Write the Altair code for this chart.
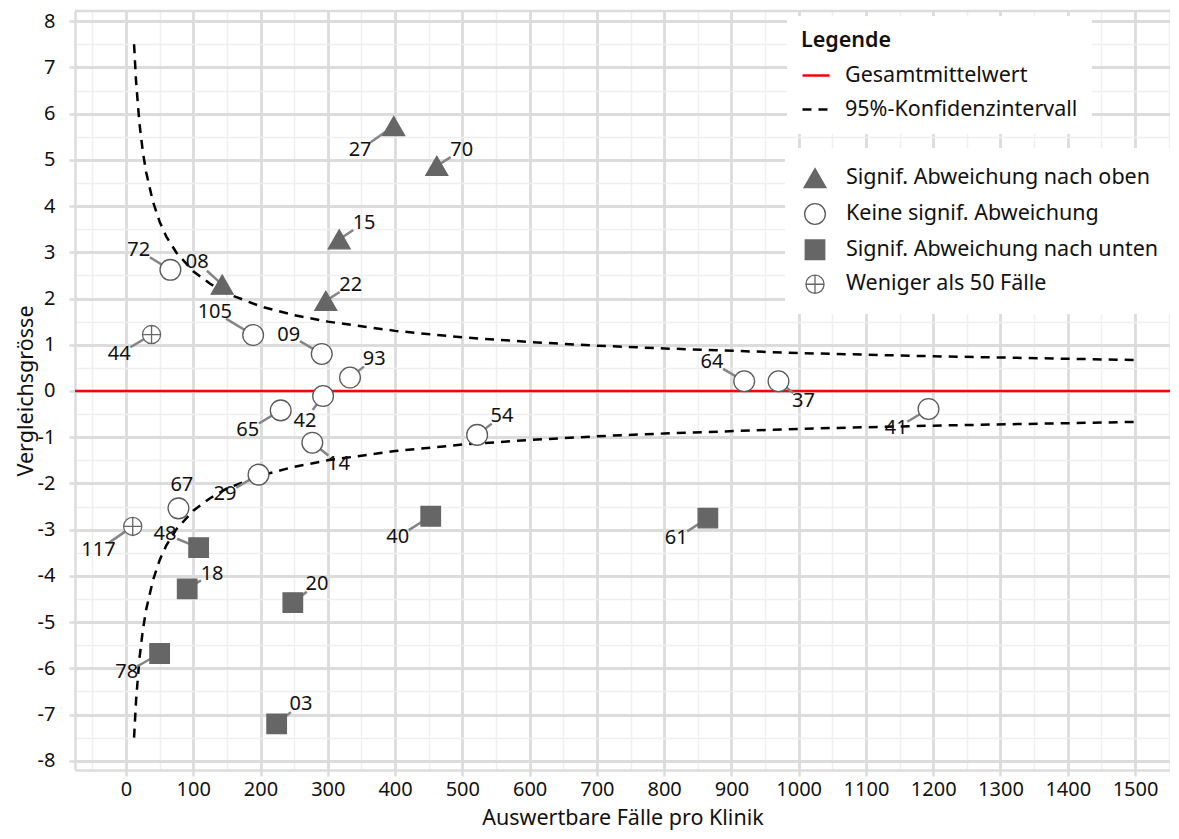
import math
import altair as alt
import pandas as pd

FONT = "Noto Sans"

# ---- data ----
klinik = ["27", "70", "15", "22", "08", "72", "105", "09", "93", "44", "42", "65", "14",
          "64", "37", "41", "54", "29", "67", "117", "48", "18", "20", "78", "03", "40", "61"]
faelle = [398, 462, 317, 297, 143, 66, 189, 291, 333, 38, 293, 230, 277,
          919, 970, 1193, 522, 197, 78, 10, 108, 91, 248, 50, 224, 453, 865]
werte = [5.73, 4.87, 3.28, 1.95, 2.30, 2.62, 1.21, 0.80, 0.29, 1.22, -0.11, -0.42, -1.12,
         0.21, 0.21, -0.39, -0.95, -1.81, -2.54, -2.93, -3.39, -4.28, -4.58, -5.68, -7.20, -2.71, -2.75]
gruppe = ["Signif. Abweichung nach oben"] * 5 + ["Keine signif. Abweichung"] * 4 + \
         ["Weniger als 50 Fälle"] + ["Keine signif. Abweichung"] * 9 + \
         ["Weniger als 50 Fälle"] + ["Signif. Abweichung nach unten"] * 7
label_x = [348, 499, 354, 334, 106, 19, 132, 242, 369, -10, 266, 181, 316,
           871, 1007, 1145, 559, 147, 83, -41, 58, 128, 284, 1, 260, 404, 818]
label_y = [5.22, 5.21, 3.64, 2.29, 2.79, 3.04, 1.71, 1.22, 0.70, 0.80, -0.64, -0.85, -1.57,
           0.62, -0.22, -0.81, -0.54, -2.23, -2.03, -3.44, -3.09, -3.95, -4.17, -6.09, -6.77, -3.16, -3.19]

gesamtmittelwert = [0.0]

ci_faelle = [12, 15, 20, 25, 30, 40, 50, 60, 75, 100, 125, 150, 200, 250, 300,
             400, 500, 600, 700, 800, 1000, 1200, 1500]
ci_oben = [7.50, 6.69, 5.79, 5.18, 4.73, 4.10, 3.66, 3.34, 2.99, 2.59, 2.32, 2.11, 1.83,
           1.64, 1.50, 1.30, 1.16, 1.06, 0.98, 0.92, 0.82, 0.75, 0.67]
ci_unten = [-7.50, -6.69, -5.79, -5.18, -4.73, -4.10, -3.66, -3.34, -2.99, -2.59, -2.32, -2.11,
            -1.83, -1.64, -1.50, -1.30, -1.16, -1.06, -0.98, -0.92, -0.82, -0.75, -0.67]

gruppen = ["Signif. Abweichung nach oben", "Keine signif. Abweichung",
           "Signif. Abweichung nach unten", "Weniger als 50 Fälle"]
linien = ["Gesamtmittelwert", "95%-Konfidenzintervall"]

x_ticks = list(range(-50, 1551, 50))
y_ticks = [v / 2 for v in range(-16, 17)]

# ---- layout ----
W, H = 1095, 759
X_DOM = [-75.8, 1552]
Y_DOM = [-8.2, 8.22]
kx = W / (X_DOM[1] - X_DOM[0])
ky = H / (Y_DOM[1] - Y_DOM[0])

pts = pd.DataFrame({"klinik": klinik, "faelle": faelle, "wert": werte, "gruppe": gruppe,
                    "lx": label_x, "ly": label_y})
sx, sy = [], []
for x, y, lx, ly in zip(faelle, werte, label_x, label_y):
    dxp = (x - lx) * kx
    dyp = (y - ly) * ky
    d = math.hypot(dxp, dyp)
    f = min(0.9, 13.0 / d) if d > 0 else 0
    sx.append(lx + (x - lx) * f)
    sy.append(ly + (y - ly) * f)
pts["sx"] = sx
pts["sy"] = sy

mw = pd.DataFrame({"wert": gesamtmittelwert, "art": [linien[0]]})
ci = pd.DataFrame({
    "n": ci_faelle + ci_faelle,
    "wert": ci_oben + ci_unten,
    "seite": ["oben"] * len(ci_faelle) + ["unten"] * len(ci_faelle),
    "art": [linien[1]] * (2 * len(ci_faelle)),
})

xs = alt.Scale(domain=X_DOM, nice=False, zero=False)
ys = alt.Scale(domain=Y_DOM, nice=False, zero=False)

major_x = "datum.value % 100 === 0 && datum.value >= 0 && datum.value <= 1500"
xaxis = alt.Axis(
    values=x_ticks,
    labelExpr="(" + major_x + ") ? '' + datum.value : ''",
    gridColor={"condition": {"test": major_x, "value": "#dcdcdc"}, "value": "#efefef"},
    gridWidth={"condition": {"test": major_x, "value": 2.8}, "value": 1.5},
    tickOpacity={"condition": {"test": major_x, "value": 1}, "value": 0},
    labelPadding=3, titlePadding=8,
)
major_y = "datum.value % 1 === 0"
yaxis = alt.Axis(
    values=y_ticks,
    labelExpr="(" + major_y + ") ? '' + datum.value : ''",
    gridColor={"condition": {"test": major_y, "value": "#dcdcdc"}, "value": "#efefef"},
    gridWidth={"condition": {"test": major_y, "value": 2.8}, "value": 1.5},
    tickOpacity={"condition": {"test": major_y, "value": 1}, "value": 0},
    labelPadding=14, titlePadding=0,
)
XT = "Auswertbare Fälle pro Klinik"
YT = "Vergleichsgrösse"


def X(f):
    return alt.X(f, type="quantitative", scale=xs, axis=xaxis, title=XT)


def Y(f):
    return alt.Y(f, type="quantitative", scale=ys, axis=yaxis, title=YT)


leg1 = alt.Legend(title="Legende", orient="none", legendX=712, legendY=5, symbolType="stroke",
                  symbolSize=729, symbolStrokeWidth=2.5, rowPadding=8, padding=14,
                  fillColor="white", labelOffset=14, labelLimit=400, titlePadding=9)
leg2 = alt.Legend(title=None, orient="none", legendX=710, legendY=137, symbolStrokeWidth=1.3,
                  rowPadding=9.5, padding=18, fillColor="white", labelOffset=19, labelLimit=400)

color_scale = alt.Scale(domain=linien, range=["#ff0000", "#000000"])
dash_scale = alt.Scale(domain=linien, range=[[1, 0], [9, 7]])

cross = "M-1,0A1,1,0,1,1,1,0A1,1,0,1,1,-1,0Z M-1,0L1,0 M0,-1L0,1"

border = alt.Chart(mw).mark_rule(color="#dcdcdc", strokeWidth=2.5).encode(y=alt.value(0))

mean_rule = alt.Chart(mw).mark_rule(strokeWidth=2.5).encode(
    y=Y("wert"),
    color=alt.Color("art:N", scale=color_scale, legend=leg1),
    strokeDash=alt.StrokeDash("art:N", scale=dash_scale, legend=leg1),
)

ci_lines = alt.Chart(ci).mark_line(strokeWidth=2.5).encode(
    x=X("n"), y=Y("wert"), detail="seite:N",
    color=alt.Color("art:N", scale=color_scale, legend=leg1),
    strokeDash=alt.StrokeDash("art:N", scale=dash_scale, legend=leg1),
)

segments = alt.Chart(pts).mark_rule(color="#858585", strokeWidth=2.5).encode(
    x=X("sx"), y=Y("sy"), x2="faelle:Q", y2="wert:Q"
)

points = alt.Chart(pts).mark_point(opacity=1, strokeWidth=1.3).encode(
    x=X("faelle"), y=Y("wert"),
    shape=alt.Shape("gruppe:N", scale=alt.Scale(domain=gruppen, range=["triangle-up", "circle", "square", cross]), legend=leg2),
    fill=alt.Fill("gruppe:N", scale=alt.Scale(domain=gruppen, range=["#666666", "#ffffff", "#666666", "#ffffff"]), legend=leg2),
    stroke=alt.Stroke("gruppe:N", scale=alt.Scale(domain=gruppen, range=["#666666", "#5a5a5a", "#666666", "#666666"]), legend=leg2),
    size=alt.Size("gruppe:N", scale=alt.Scale(domain=gruppen, range=[480, 330, 330, 330]), legend=leg2),
)

labels = alt.Chart(pts).mark_text(font=FONT, fontSize=20, color="#111111", baseline="middle", align="center").encode(
    x=X("lx"), y=Y("ly"), text="klinik:N"
)

chart = alt.layer(border, mean_rule, ci_lines, segments, points, labels).properties(
    width=W, height=H,
    padding={"left": 67, "top": 3, "right": 0, "bottom": 61},
    autosize=alt.AutoSizeParams(type="none"),
).configure_view(stroke=None).configure_axis(
    labelFont=FONT, titleFont=FONT, labelFontSize=20, titleFontSize=21.5, titleFontWeight="normal",
    labelColor="#111111", titleColor="#111111", domainColor="#dcdcdc", domainWidth=2.5,
    tickColor="#dcdcdc", tickWidth=2.5, tickSize=6,
).configure_legend(
    labelFont=FONT, titleFont=FONT, labelFontSize=21.5, titleFontSize=21.5, titleFontWeight=600,
    labelColor="#111111", titleColor="#111111",
)

chart.save("out.html", embed_options={"renderer": "svg", "actions": False})
